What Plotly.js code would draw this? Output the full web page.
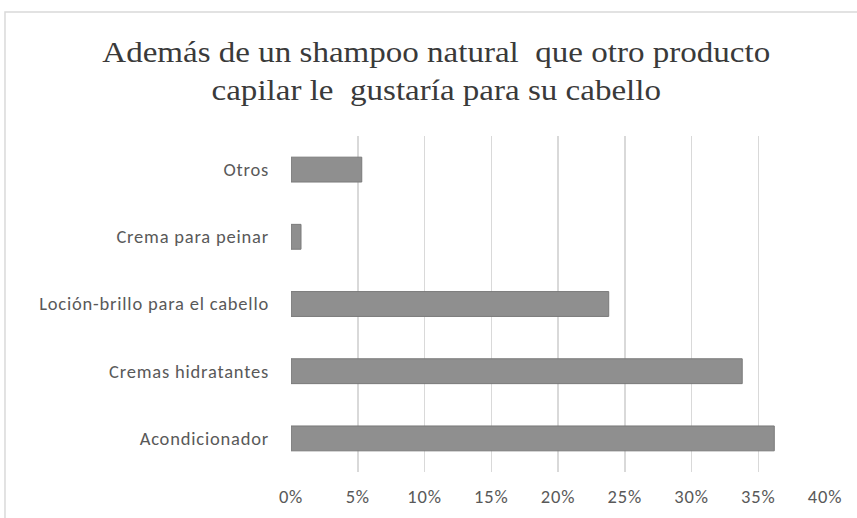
<!DOCTYPE html>
<html>
<head>
<meta charset="utf-8">
<script src="https://cdn.plot.ly/plotly-3.0.1.min.js"></script>
<style>
html,body{margin:0;padding:0;background:#fff;}
#chart{width:857px;height:518px;}
#chart .xtick text, #chart .ytick text { letter-spacing: 0.8px; }
#chart .gtitle { transform: scaleX(1.12); transform-origin: 436px 0px; }
</style>
</head>
<body>
<div id="chart"></div>
<script>
const categories = ["Acondicionador", "Cremas hidratantes", "Loción-brillo para el cabello", "Crema para peinar", "Otros"];
const values = [0.362, 0.338, 0.238, 0.0075, 0.053];
const xTickVals = [0, 0.05, 0.10, 0.15, 0.20, 0.25, 0.30, 0.35, 0.40];
const xTickText = ["0%", "5%", "10%", "15%", "20%", "25%", "30%", "35%", "40%"];
const titleText = "Además de un shampoo natural  que otro producto<br>capilar le  gustaría para su cabello";

const trace = {
  type: "bar",
  orientation: "h",
  x: values,
  y: categories,
  marker: {color: "#8f8f8f", line: {color: "#7a7a7a", width: 1}},
  hoverinfo: "skip"
};

const tickFont = {family: "Carlito, Open Sans, Liberation Sans, sans-serif", size: 18.5, color: "#595959"};

const layout = {
  width: 857, height: 518,
  margin: {l: 291, r: 32, t: 136, b: 46},
  paper_bgcolor: "#ffffff", plot_bgcolor: "#ffffff",
  bargap: 0.63,
  showlegend: false,
  title: {
    text: titleText,
    font: {family: "Liberation Serif, Times New Roman, serif", size: 29.5, color: "#3a3a3a"},
    xref: "container", x: 0.509, xanchor: "center",
    yref: "container", y: 0.881, yanchor: "middle"
  },
  xaxis: {
    range: [0, 0.40],
    tickvals: xTickVals, ticktext: xTickText,
    showgrid: true, gridcolor: "#d9d9d9", gridwidth: 1.5,
    zeroline: false, showline: false, ticks: "",
    ticklabelstandoff: 11,
    tickfont: tickFont,
    fixedrange: true
  },
  yaxis: {
    type: "category",
    showgrid: false, zeroline: false, showline: false, ticks: "",
    ticklabelstandoff: 21,
    tickfont: tickFont,
    fixedrange: true
  },
  shapes: [{
    type: "rect", xref: "paper", yref: "paper",
    x0: -0.5356, x1: 1.07, y0: -0.3, y1: 1.369,
    line: {color: "#d9d9d9", width: 1.5}, fillcolor: "rgba(0,0,0,0)", layer: "below"
  }]
};

Plotly.newPlot("chart", [trace], layout, {displayModeBar: false, staticPlot: true});
</script>
</body>
</html>
